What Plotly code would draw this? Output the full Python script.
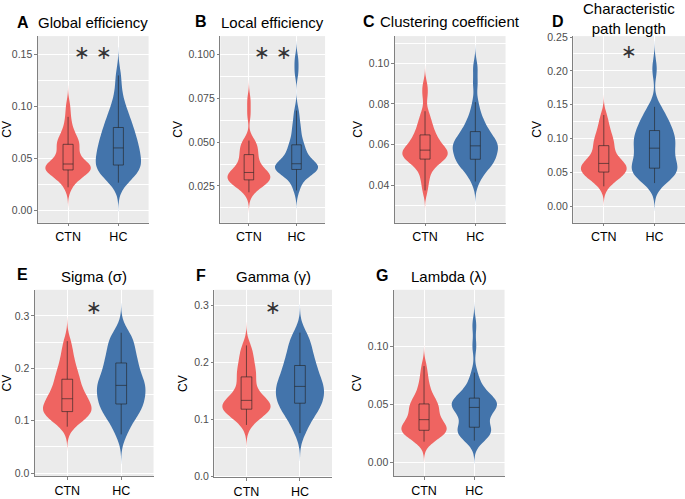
import numpy as np
import plotly.graph_objects as go

# ---------------- data ----------------
groups = ["CTN", "HC"]
group_colors = ["#EF6461", "#4374AB"]

panel_letters = ["A", "B", "C", "D", "E", "F", "G"]
panel_titles = ["Global efficiency", "Local efficiency", "Clustering coefficient",
                "Characteristic<br>path length", "Sigma (σ)", "Gamma (γ)", "Lambda (λ)"]
y_tick_step = [0.05, 0.025, 0.02, 0.05, 0.1, 0.1, 0.05]
y_tick_format = [".2f", ".3f", ".2f", ".2f", ".1f", ".1f", ".2f"]
sig_stars = [2, 2, 0, 1, 1, 1, 0]          # number of asterisks per panel
sig_level = [0.15, 0.10, None, 0.225, 0.312, 0.292, None]

global_eff_ctn = [0.022, 0.027, 0.031, 0.033, 0.035, 0.036, 0.037, 0.038,
                  0.039, 0.040, 0.041, 0.041, 0.042, 0.043, 0.0435, 0.044,
                  0.045, 0.047, 0.050, 0.053, 0.056, 0.059, 0.061, 0.063,
                  0.065, 0.067, 0.069, 0.072, 0.076, 0.082, 0.090, 0.1007]
global_eff_hc = [0.0265, 0.030, 0.033, 0.036, 0.038, 0.040, 0.041, 0.042,
                 0.044, 0.046, 0.048, 0.051, 0.053, 0.055, 0.057, 0.059,
                 0.061, 0.063, 0.066, 0.068, 0.071, 0.073, 0.076, 0.079,
                 0.082, 0.085, 0.089, 0.093, 0.098, 0.104, 0.115, 0.130]
local_eff_ctn = [0.0213, 0.0235, 0.025, 0.026, 0.027, 0.0275, 0.028, 0.0282,
                 0.0285, 0.029, 0.030, 0.0305, 0.031, 0.0315, 0.032, 0.0323,
                 0.033, 0.034, 0.035, 0.036, 0.038, 0.039, 0.041, 0.0425,
                 0.044, 0.045, 0.047, 0.049, 0.050, 0.0509, 0.066, 0.074]
local_eff_hc = [0.0224, 0.026, 0.029, 0.031, 0.032, 0.033, 0.0335, 0.034,
                0.0345, 0.035, 0.0355, 0.036, 0.0362, 0.0367, 0.037, 0.0373,
                0.038, 0.039, 0.041, 0.042, 0.044, 0.045, 0.047, 0.048,
                0.050, 0.053, 0.056, 0.059, 0.063, 0.0681, 0.090, 0.097]
clustering_ctn = [0.0374, 0.042, 0.045, 0.048, 0.050, 0.051, 0.052, 0.0523,
                  0.053, 0.054, 0.0545, 0.055, 0.0555, 0.056, 0.0565, 0.057,
                  0.0575, 0.058, 0.059, 0.060, 0.061, 0.062, 0.063, 0.0645,
                  0.0655, 0.067, 0.069, 0.071, 0.073, 0.0764, 0.084, 0.089]
clustering_hc = [0.0418, 0.045, 0.047, 0.049, 0.050, 0.0508, 0.0515, 0.052,
                 0.053, 0.054, 0.055, 0.056, 0.057, 0.058, 0.0585, 0.059,
                 0.0597, 0.060, 0.061, 0.062, 0.063, 0.064, 0.065, 0.066,
                 0.0675, 0.069, 0.071, 0.073, 0.076, 0.0809, 0.090, 0.098]
path_len_ctn = [0.0297, 0.036, 0.040, 0.043, 0.045, 0.047, 0.049, 0.050,
                0.051, 0.053, 0.055, 0.057, 0.059, 0.060, 0.062, 0.063,
                0.064, 0.066, 0.069, 0.072, 0.076, 0.080, 0.085, 0.089,
                0.092, 0.096, 0.100, 0.105, 0.110, 0.117, 0.125, 0.135]
path_len_hc = [0.0345, 0.040, 0.044, 0.047, 0.050, 0.052, 0.054, 0.055,
               0.058, 0.062, 0.066, 0.070, 0.074, 0.078, 0.082, 0.086,
               0.090, 0.093, 0.096, 0.099, 0.102, 0.106, 0.110, 0.114,
               0.118, 0.122, 0.127, 0.133, 0.140, 0.147, 0.203]
sigma_ctn = [0.0887, 0.097, 0.103, 0.107, 0.110, 0.113, 0.115, 0.116,
             0.118, 0.121, 0.124, 0.127, 0.130, 0.134, 0.138, 0.141,
             0.143, 0.147, 0.151, 0.156, 0.161, 0.166, 0.172, 0.178,
             0.183, 0.189, 0.196, 0.204, 0.213, 0.224, 0.237, 0.252]
sigma_hc = [0.074, 0.088, 0.100, 0.108, 0.115, 0.120, 0.125, 0.129,
            0.133, 0.138, 0.143, 0.148, 0.153, 0.158, 0.162, 0.166,
            0.169, 0.173, 0.178, 0.183, 0.189, 0.195, 0.202, 0.209,
            0.214, 0.220, 0.228, 0.236, 0.245, 0.253, 0.261, 0.268]
gamma_ctn = [0.0898, 0.098, 0.104, 0.108, 0.111, 0.113, 0.115, 0.116,
             0.118, 0.120, 0.122, 0.124, 0.126, 0.128, 0.130, 0.132,
             0.134, 0.137, 0.141, 0.146, 0.152, 0.159, 0.166, 0.173,
             0.178, 0.183, 0.189, 0.196, 0.204, 0.212, 0.221, 0.2295]
gamma_hc = [0.0756, 0.088, 0.098, 0.106, 0.112, 0.117, 0.121, 0.125,
            0.129, 0.133, 0.137, 0.141, 0.145, 0.149, 0.153, 0.156,
            0.159, 0.163, 0.167, 0.172, 0.177, 0.182, 0.187, 0.193,
            0.198, 0.204, 0.211, 0.218, 0.226, 0.234, 0.243, 0.252]
lambda_ctn = [0.0181, 0.020, 0.022, 0.024, 0.025, 0.026, 0.027, 0.0275,
              0.028, 0.029, 0.030, 0.031, 0.032, 0.034, 0.035, 0.036,
              0.038, 0.040, 0.042, 0.044, 0.046, 0.048, 0.049, 0.050,
              0.052, 0.054, 0.057, 0.060, 0.064, 0.069, 0.075, 0.083]
lambda_hc = [0.019, 0.021, 0.023, 0.025, 0.026, 0.027, 0.028, 0.029,
             0.031, 0.034, 0.037, 0.040, 0.042, 0.044, 0.046, 0.047,
             0.048, 0.049, 0.050, 0.051, 0.052, 0.053, 0.054, 0.055,
             0.057, 0.059, 0.062, 0.065, 0.070, 0.0774, 0.100, 0.118]

panel_data = [
    (global_eff_ctn, global_eff_hc),
    (local_eff_ctn, local_eff_hc),
    (clustering_ctn, clustering_hc),
    (path_len_ctn, path_len_hc),
    (sigma_ctn, sigma_hc),
    (gamma_ctn, gamma_hc),
    (lambda_ctn, lambda_hc),
]

# ---------------- layout (pixel geometry) ----------------
W, H = 685, 499
plot_px = [  # left, right, top, bottom
    (36, 147, 32, 224),
    (219, 324, 32, 224),
    (394, 505, 32, 224),
    (573, 685, 32, 224),
    (33, 152, 293, 485),
    (213, 331, 293, 486),
    (393, 504, 293, 485),
]
y_ranges = [(-0.0122, 0.168), (0.0039, 0.1107), (0.0215, 0.1134), (-0.024, 0.2514),
            (-0.0062, 0.350), (-0.0023, 0.3273), (-0.0117, 0.1485)]
letter_px = [(13, 17.5), (192, 16.5), (360, 16.5), (550, 17), (13, 277.5), (193, 278), (373, 278.5)]
title_y_px = [17.5, 17.5, 16.5, 14.2, 279, 279, 279]

FONT = "Liberation Sans"
BW_ADJUST = 0.8


def bw_nrd0(v):
    v = np.asarray(v, float)
    q75, q25 = np.percentile(v, [75, 25])
    lo = min(np.std(v, ddof=1), (q75 - q25) / 1.34)
    return 0.9 * lo * len(v) ** -0.2


def box_stats(v):
    v = np.asarray(v, float)
    q1, med, q3 = np.percentile(v, [25, 50, 75])
    iqr = q3 - q1
    lf = v[v >= q1 - 1.5 * iqr].min()
    uf = v[v <= q3 + 1.5 * iqr].max()
    return q1, med, q3, lf, uf


fig = go.Figure()
annotations = []
layout_axes = {}

for i, (data_pair, (l, r, t, b)) in enumerate(zip(panel_data, plot_px)):
    sfx = "" if i == 0 else str(i + 1)
    xa, ya = "x" + sfx, "y" + sfx
    for g, vals, col in zip(groups, data_pair, group_colors):
        bw = bw_nrd0(vals) * BW_ADJUST
        fig.add_trace(go.Violin(
            x=[g] * len(vals), y=vals, xaxis=xa, yaxis=ya,
            fillcolor=col, line=dict(width=0, color=col), opacity=1,
            points=False, bandwidth=bw, spanmode="manual",
            span=[min(vals) - 3 * bw, max(vals) + 3 * bw],
            scalegroup="p%d" % i, scalemode="width", width=0.9,
            showlegend=False, hoverinfo="skip"))
        q1, med, q3, lf, uf = box_stats(vals)
        fig.add_trace(go.Box(
            x=[g], q1=[q1], median=[med], q3=[q3], lowerfence=[lf], upperfence=[uf],
            xaxis=xa, yaxis=ya, width=0.2, whiskerwidth=0,
            fillcolor="rgba(0,0,0,0)", line=dict(color="rgba(35,35,35,0.68)", width=0.9),
            boxpoints=False, showlegend=False, hoverinfo="skip"))

    dom_x = [l / W, r / W]
    dom_y = [1 - b / H, 1 - t / H]
    layout_axes["xaxis" + sfx] = dict(
        domain=dom_x, anchor=ya, type="category", categoryorder="array",
        categoryarray=groups, range=[-0.6, 1.6], showgrid=True, gridcolor="white",
        gridwidth=1.1, showline=True, linecolor="#808080", linewidth=1,
        ticks="outside", ticklen=2.5, tickcolor="#808080",
        tickfont=dict(family=FONT, size=12.5, color="black"), zeroline=False,
        fixedrange=True)
    step = y_tick_step[i]
    layout_axes["yaxis" + sfx] = dict(
        domain=dom_y, anchor=xa, range=list(y_ranges[i]), tick0=0, dtick=step,
        tickformat=y_tick_format[i], showgrid=True, gridcolor="white", gridwidth=1.1,
        minor=dict(tick0=0, dtick=step / 2, showgrid=True, gridcolor="white",
                   gridwidth=0.5, ticks=""),
        showline=True, linecolor="#808080", linewidth=1, ticks="outside",
        ticklen=2.5, tickcolor="#808080",
        tickfont=dict(family=FONT, size=10.5, color="#4D4D4D"), zeroline=False,
        title=dict(text="CV", font=dict(family=FONT, size=12, color="black"), standoff=3),
        fixedrange=True)

    # panel title and letter
    annotations.append(dict(
        text=panel_titles[i], x=(l + r) / 2 / W, y=1 - title_y_px[i] / H,
        xref="paper", yref="paper", xanchor="center", yanchor="middle",
        showarrow=False, font=dict(family=FONT, size=15, color="black")))
    lx, ly = letter_px[i]
    annotations.append(dict(
        text="<b>%s</b>" % panel_letters[i], x=lx / W, y=1 - ly / H,
        xref="paper", yref="paper", xanchor="left", yanchor="middle",
        showarrow=False, font=dict(family=FONT, size=16, color="black")))

    # significance stars (between the two groups)
    n_st = sig_stars[i]
    if n_st:
        shifts = [0] if n_st == 1 else [-11, 11]
        for s in shifts:
            annotations.append(dict(
                text="∗", x=0.5, y=sig_level[i], xref=xa, yref=ya,
                xanchor="center", yanchor="middle", xshift=s, yshift=3,
                showarrow=False,
                font=dict(family="DejaVu Sans", size=19, color="#333333")))

fig.update_layout(
    width=W, height=H, margin=dict(l=0, r=0, t=0, b=0),
    paper_bgcolor="white", plot_bgcolor="#EBEBEB",
    violinmode="overlay", boxmode="overlay", showlegend=False,
    annotations=annotations, **layout_axes)

fig.write_html("out.html", config={"displayModeBar": False},
               post_script="document.body.style.margin='0';")
